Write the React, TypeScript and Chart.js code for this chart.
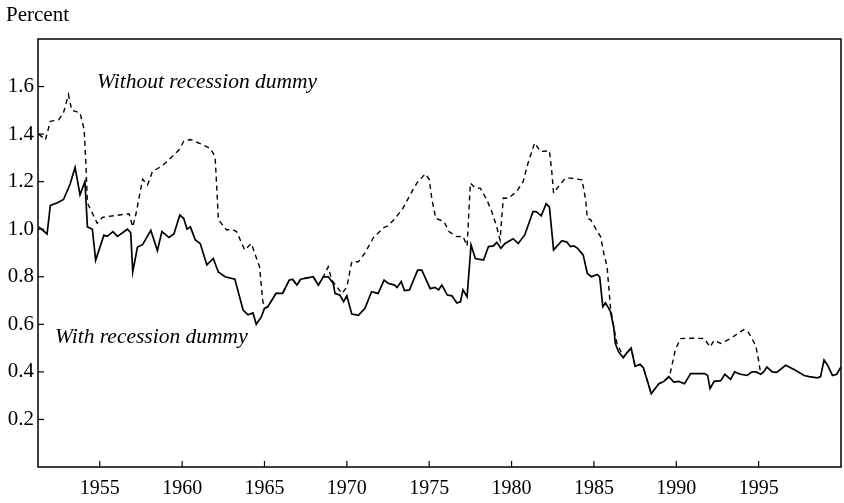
import React, { useEffect, useRef } from "react";
import { Chart, registerables } from "chart.js";

Chart.register(...registerables);

const withYears = [
  1951.3, 1951.8, 1952.0, 1952.4, 1952.8, 1953.2, 1953.5, 1953.8, 1954.1, 1954.25, 1954.55, 1954.75,
  1955.25, 1955.45, 1955.8, 1956.07, 1956.68, 1956.88, 1957.0, 1957.29, 1957.6, 1958.1, 1958.5, 1958.77,
  1959.2, 1959.5, 1959.86, 1960.1, 1960.3, 1960.5, 1960.8, 1961.1, 1961.5, 1961.89, 1962.2, 1962.6,
  1963.2, 1963.7, 1964.0, 1964.3, 1964.5, 1964.8, 1965.0, 1965.2, 1965.7, 1966.1, 1966.5, 1966.7,
  1966.97, 1967.2, 1967.96, 1968.27, 1968.57, 1968.87, 1969.17, 1969.28, 1969.58, 1969.8, 1970.0, 1970.3,
  1970.7, 1971.1, 1971.5, 1971.9, 1972.26, 1972.5, 1972.9, 1973.05, 1973.3, 1973.5, 1973.8, 1974.3,
  1974.55, 1975.06, 1975.35, 1975.57, 1975.77, 1976.1, 1976.38, 1976.68, 1976.9, 1977.05, 1977.3, 1977.54,
  1977.8, 1978.3, 1978.6, 1978.9, 1979.1, 1979.35, 1979.6, 1980.1, 1980.4, 1980.8, 1981.3, 1981.5,
  1981.8, 1982.1, 1982.3, 1982.55, 1983.06, 1983.35, 1983.57, 1983.77, 1984.0, 1984.35, 1984.6, 1984.85,
  1985.2, 1985.35, 1985.54, 1985.7, 1985.9, 1986.0, 1986.2, 1986.3, 1986.5, 1986.78, 1987.0, 1987.26,
  1987.5, 1987.8, 1988.0, 1988.48, 1988.94, 1989.25, 1989.55, 1989.85, 1990.15, 1990.5, 1990.87, 1991.7,
  1991.9, 1992.05, 1992.3, 1992.7, 1992.95, 1993.3, 1993.54, 1993.9, 1994.3, 1994.6, 1994.85, 1995.13,
  1995.3, 1995.5, 1995.83, 1996.1, 1996.64, 1997.15, 1997.76, 1998.06, 1998.57, 1998.76, 1998.97, 1999.17,
  1999.48, 1999.74, 1999.99,
];
const withValues = [
  1.01, 0.98, 1.1, 1.11, 1.125, 1.19, 1.26, 1.145, 1.2, 1.01, 1.0, 0.87,
  0.975, 0.97, 0.99, 0.97, 1.0, 0.985, 0.82, 0.925, 0.935, 0.995, 0.91, 0.99,
  0.965, 0.98, 1.06, 1.045, 1.0, 1.01, 0.955, 0.94, 0.85, 0.877, 0.82, 0.8,
  0.79, 0.66, 0.64, 0.648, 0.6, 0.63, 0.667, 0.674, 0.73, 0.73, 0.786, 0.79,
  0.765, 0.79, 0.8, 0.765, 0.8, 0.8, 0.773, 0.73, 0.723, 0.695, 0.72, 0.643,
  0.638, 0.667, 0.737, 0.73, 0.786, 0.773, 0.765, 0.755, 0.78, 0.742, 0.745, 0.828,
  0.828, 0.75, 0.755, 0.745, 0.765, 0.723, 0.72, 0.69, 0.695, 0.745, 0.716, 0.934,
  0.877, 0.87, 0.927, 0.93, 0.945, 0.92, 0.94, 0.96, 0.94, 0.976, 1.074, 1.074,
  1.056, 1.107, 1.093, 0.913, 0.952, 0.946, 0.927, 0.93, 0.92, 0.891, 0.814, 0.8,
  0.81, 0.8, 0.674, 0.69, 0.667, 0.654, 0.589, 0.519, 0.484, 0.46, 0.48, 0.5,
  0.423, 0.432, 0.418, 0.308, 0.35, 0.36, 0.38, 0.357, 0.36, 0.35, 0.393, 0.393,
  0.386, 0.33, 0.36, 0.363, 0.39, 0.368, 0.4, 0.39, 0.385, 0.4, 0.4, 0.39,
  0.4, 0.42, 0.4, 0.398, 0.428, 0.41, 0.385, 0.38, 0.375, 0.38, 0.45, 0.43,
  0.385, 0.39, 0.42,
];

const withoutYears = [
  1951.3, 1951.7, 1952.0, 1952.5, 1952.8, 1953.1, 1953.3, 1953.8, 1954.05, 1954.15, 1954.25, 1954.65,
  1954.85, 1955.16, 1955.97, 1956.78, 1957.0, 1957.2, 1957.6, 1957.9, 1958.2, 1958.8, 1959.4, 1959.8,
  1960.1, 1960.5, 1961.1, 1961.7, 1962.0, 1962.1, 1962.2, 1962.7, 1963.0, 1963.3, 1963.8, 1964.2,
  1964.4, 1964.7, 1964.9, 1965.0, 1965.2, 1965.7, 1966.1, 1966.5, 1966.7, 1966.97, 1967.2, 1967.96,
  1968.27, 1968.57, 1968.87, 1969.08, 1969.7, 1970.0, 1970.3, 1970.7, 1971.1, 1971.6, 1972.2, 1972.5,
  1972.94, 1973.4, 1973.95, 1974.25, 1974.76, 1975.0, 1975.17, 1975.4, 1975.9, 1976.2, 1976.68, 1977.05,
  1977.3, 1977.5, 1977.8, 1978.1, 1978.5, 1978.8, 1979.1, 1979.3, 1979.5, 1979.8, 1980.3, 1980.7,
  1981.0, 1981.4, 1981.75, 1982.3, 1982.45, 1982.55, 1982.85, 1983.27, 1983.57, 1984.28, 1984.5, 1984.6,
  1984.8, 1985.15, 1985.4, 1985.6, 1985.8, 1986.0, 1986.2, 1986.4, 1986.6, 1986.78, 1987.0, 1987.26,
  1987.5, 1987.8, 1988.0, 1988.48, 1988.94, 1989.25, 1989.55, 1989.65, 1989.95, 1990.26, 1990.87, 1991.7,
  1992.05, 1992.3, 1992.7, 1993.3, 1993.7, 1994.1, 1994.35, 1994.83, 1995.0, 1995.13,
];
const withoutValues = [
  1.4, 1.376, 1.454, 1.46, 1.49, 1.566, 1.5, 1.49, 1.42, 1.29, 1.11, 1.053,
  1.025, 1.05, 1.058, 1.065, 1.01, 1.065, 1.21, 1.186, 1.243, 1.267, 1.306, 1.333,
  1.37, 1.377, 1.36, 1.34, 1.306, 1.18, 1.04, 0.997, 1.0, 0.99, 0.913, 0.94,
  0.9, 0.842, 0.695, 0.667, 0.674, 0.73, 0.73, 0.786, 0.79, 0.765, 0.79, 0.8,
  0.765, 0.8, 0.842, 0.786, 0.73, 0.757, 0.863, 0.863, 0.9, 0.963, 1.005, 1.015,
  1.046, 1.088, 1.158, 1.194, 1.233, 1.21, 1.123, 1.046, 1.032, 0.99, 0.969, 0.97,
  0.93, 1.194, 1.173, 1.173, 1.123, 1.074, 1.01, 0.955, 1.131, 1.13, 1.158, 1.2,
  1.278, 1.363, 1.327, 1.33, 1.236, 1.152, 1.18, 1.215, 1.215, 1.208, 1.123, 1.046,
  1.04, 0.997, 0.969, 0.9, 0.842, 0.674, 0.59, 0.519, 0.491, 0.46, 0.48, 0.5,
  0.423, 0.432, 0.418, 0.308, 0.35, 0.36, 0.38, 0.4, 0.495, 0.54, 0.542, 0.54,
  0.505, 0.533, 0.52, 0.54, 0.56, 0.578, 0.57, 0.51, 0.446, 0.39,
];

const xTickYears = [1955, 1960, 1965, 1970, 1975, 1980, 1985, 1990, 1995];
const yTickValues = [0.2, 0.4, 0.6, 0.8, 1.0, 1.2, 1.4, 1.6];

const FONT = '"Liberation Serif", "Times New Roman", serif';

const framePlugin = {
  id: "frame",
  afterDraw(chart: any) {
    const { ctx, chartArea } = chart;
    const { left, right, top, bottom } = chartArea;
    ctx.save();
    ctx.strokeStyle = "#000";
    ctx.lineWidth = 1.5;
    ctx.strokeRect(left, top, right - left, bottom - top);
    ctx.lineWidth = 1.2;
    const xs = chart.scales.x;
    xTickYears.forEach((v) => {
      const px = xs.getPixelForValue(v);
      ctx.beginPath();
      ctx.moveTo(px, bottom);
      ctx.lineTo(px, bottom - 6);
      ctx.stroke();
    });
    const ys = chart.scales.y;
    yTickValues.forEach((v) => {
      const py = ys.getPixelForValue(v);
      ctx.beginPath();
      ctx.moveTo(left, py);
      ctx.lineTo(left + 6, py);
      ctx.stroke();
    });
    ctx.fillStyle = "#000";
    ctx.textBaseline = "alphabetic";
    ctx.textAlign = "left";
    ctx.font = `21px ${FONT}`;
    ctx.fillText("Percent", 6, 21);
    ctx.font = `italic 21.5px ${FONT}`;
    ctx.fillText("Without recession dummy", 97, 88);
    ctx.fillText("With recession dummy", 55, 343);
    ctx.restore();
  },
};

export default function App() {
  const ref = useRef<HTMLCanvasElement | null>(null);
  useEffect(() => {
    if (!ref.current) return;
    const chart = new Chart(ref.current, {
      type: "line",
      data: {
        datasets: [
          {
            label: "With recession dummy",
            data: withYears.map((x, i) => ({ x, y: withValues[i] })),
            borderColor: "#000",
            borderWidth: 1.7,
            pointRadius: 0,
            tension: 0,
            fill: false,
          },
          {
            label: "Without recession dummy",
            data: withoutYears.map((x, i) => ({ x, y: withoutValues[i] })),
            borderColor: "#000",
            borderWidth: 1.4,
            borderDash: [5, 4],
            pointRadius: 0,
            tension: 0,
            fill: false,
          },
        ],
      },
      options: {
        responsive: false,
        animation: false,
        layout: { padding: { top: 39, right: 3, left: 0, bottom: 0 } },
        plugins: { legend: { display: false }, tooltip: { enabled: false }, title: { display: false } },
        scales: {
          x: {
            type: "linear",
            min: 1951.25,
            max: 2000,
            afterFit: (s: any) => {
              s.height = 36;
            },
            afterBuildTicks: (s: any) => {
              s.ticks = xTickYears.map((v) => ({ value: v }));
            },
            grid: { display: false, drawTicks: false },
            border: { display: false },
            ticks: {
              color: "#000",
              padding: 10,
              font: { family: FONT, size: 20 },
              callback: (v: any) => String(v),
              maxRotation: 0,
              autoSkip: false,
            },
          },
          y: {
            type: "linear",
            min: 0,
            max: 1.8,
            afterFit: (s: any) => {
              s.width = 38;
            },
            afterBuildTicks: (s: any) => {
              s.ticks = yTickValues.map((v) => ({ value: v }));
            },
            grid: { display: false, drawTicks: false },
            border: { display: false },
            ticks: {
              color: "#000",
              padding: 4,
              font: { family: FONT, size: 21 },
              callback: (v: any) => Number(v).toFixed(1),
              autoSkip: false,
            },
          },
        },
      },
      plugins: [framePlugin],
    });
    return () => chart.destroy();
  }, []);
  return (
    <div style={{ position: "absolute", left: 0, top: 0, width: 844, height: 503, background: "#fff" }}>
      <canvas ref={ref} width={844} height={503} style={{ display: "block" }} />
    </div>
  );
}
